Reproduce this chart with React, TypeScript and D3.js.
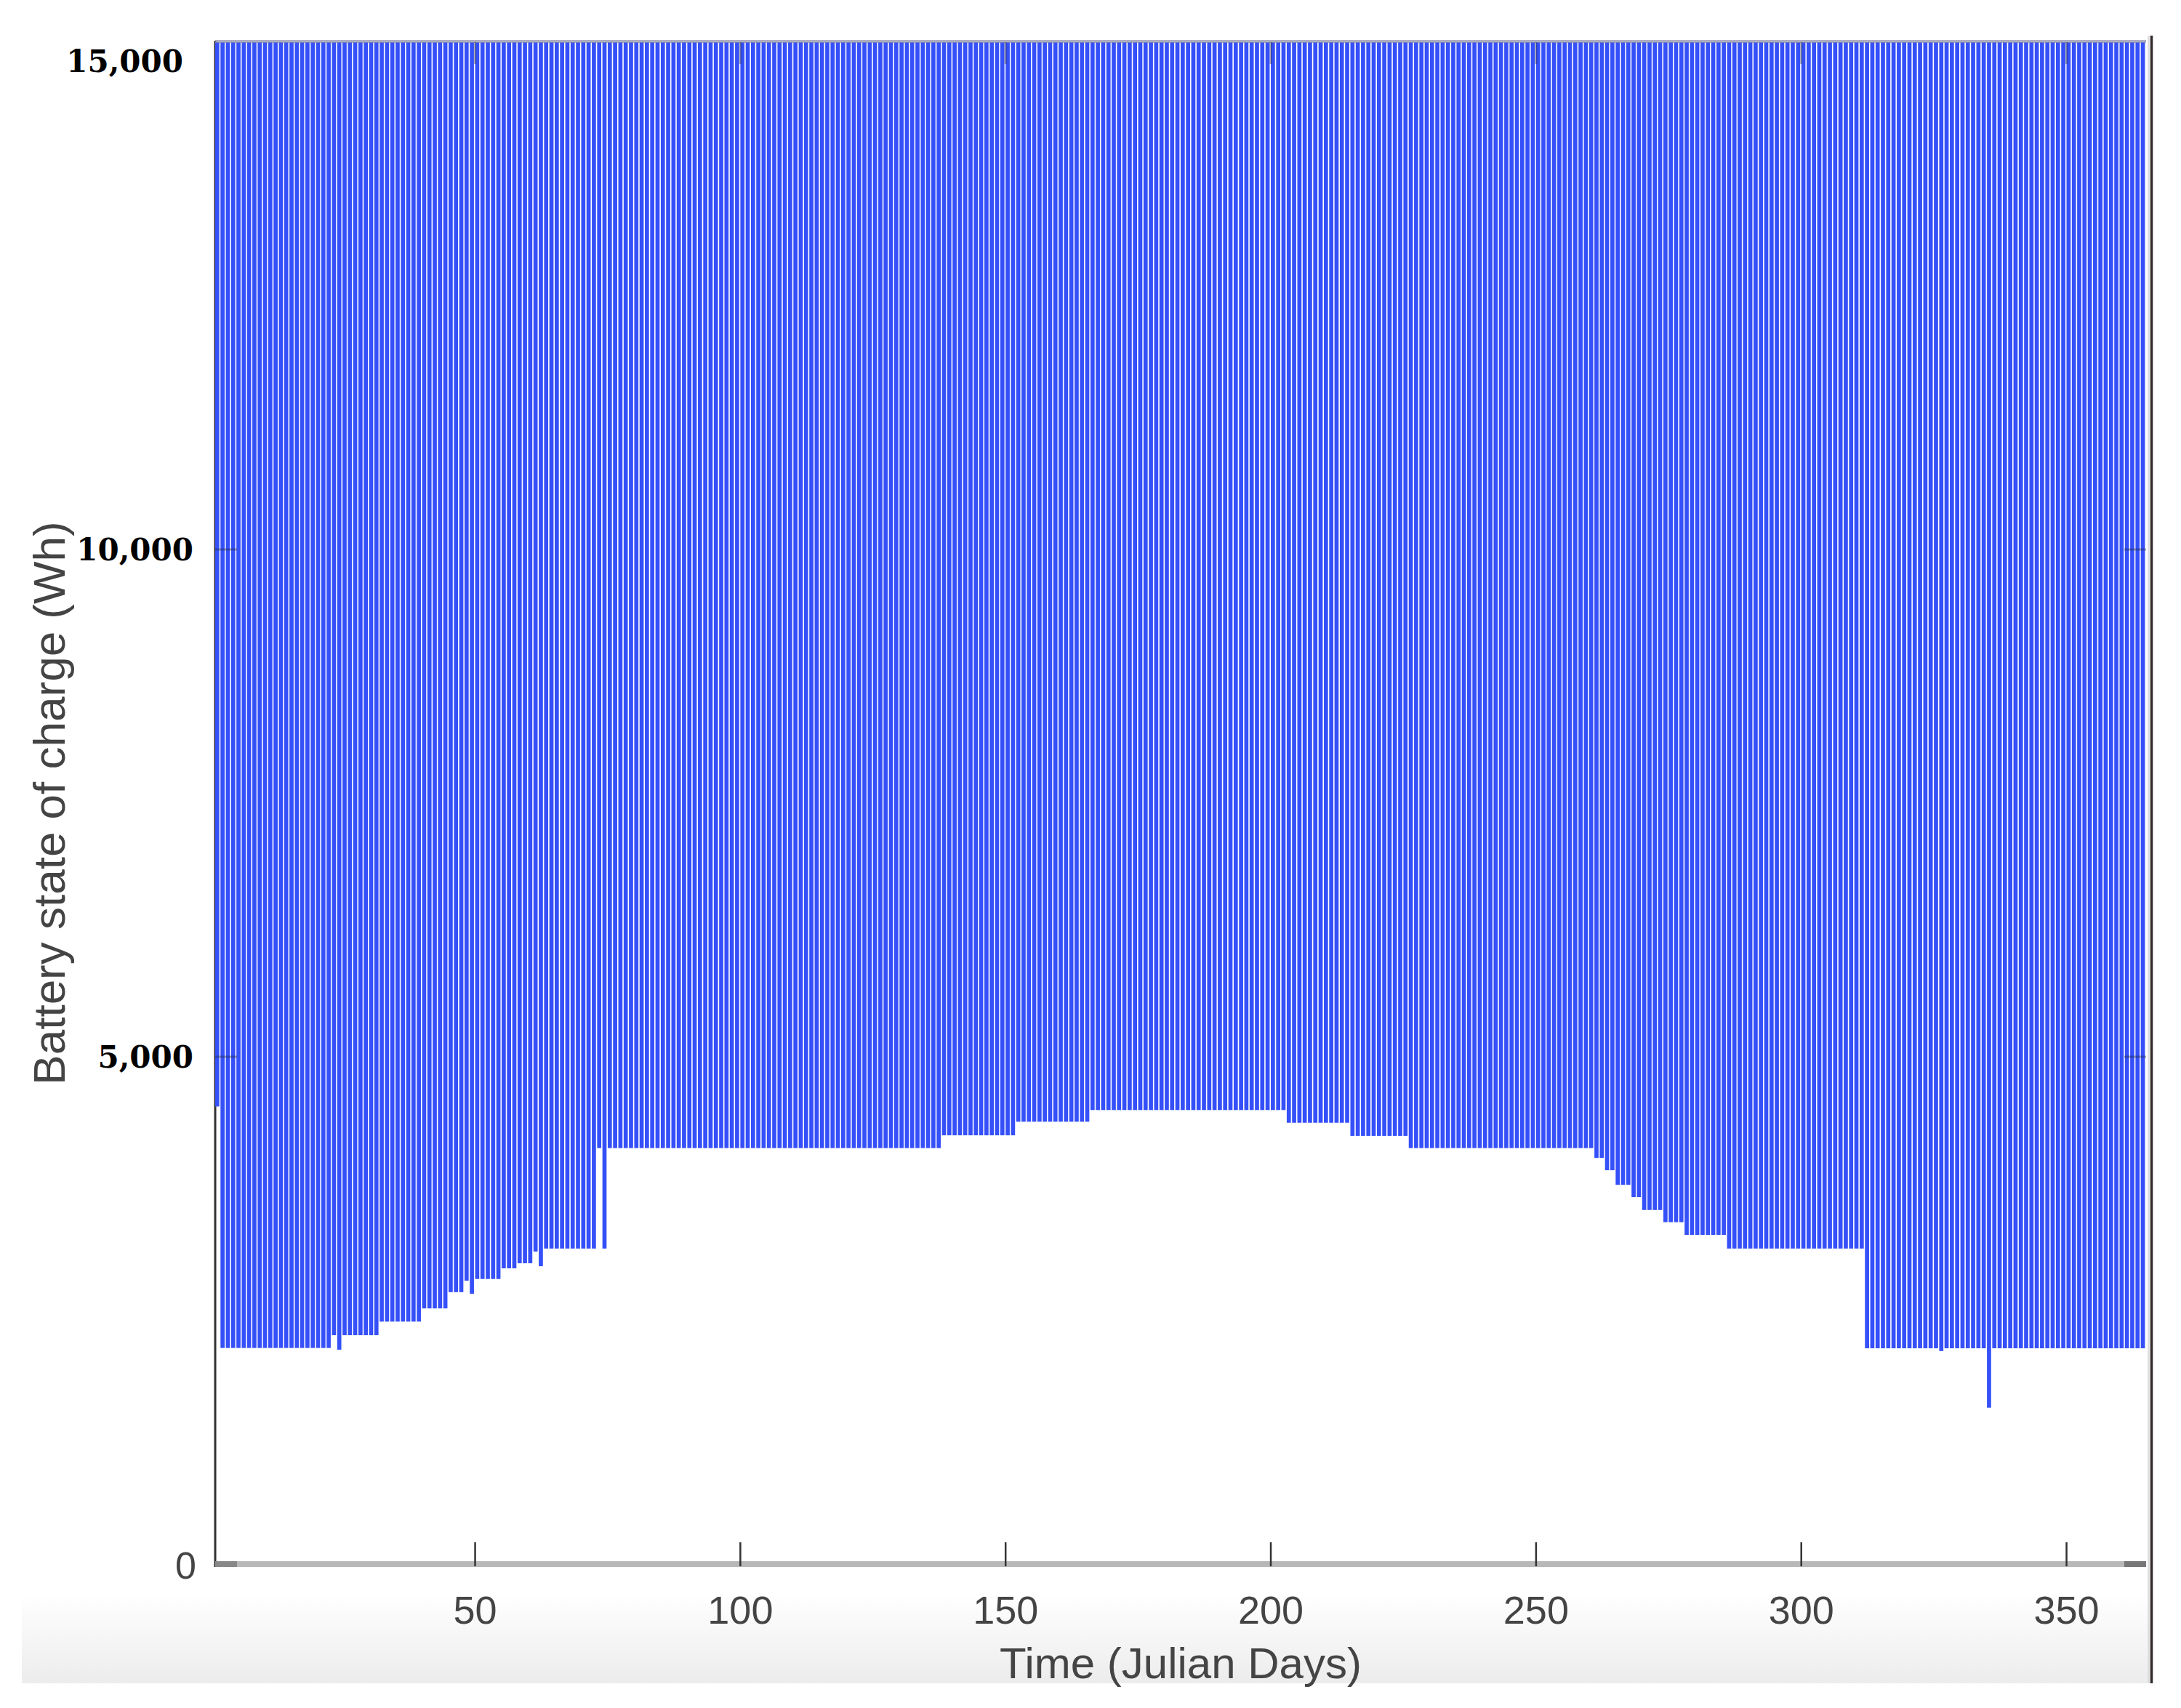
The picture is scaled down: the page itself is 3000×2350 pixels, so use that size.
import React from 'react';
import { scaleLinear, range } from 'd3';

// daily minimum battery charge, stored as runs: run i starts on runStartDay[i]
const runStartDay = [1, 2, 23, 24, 25, 32, 40, 45, 48, 49, 50, 55, 58, 61, 62, 63, 73, 74, 75, 138, 152, 166, 203, 215, 226, 261, 263, 265, 268, 270, 274, 278, 286, 312, 326, 327, 335, 336];
const runMinWh = [4510, 2130, 2256, 2113, 2256, 2390, 2520, 2680, 2793, 2664, 2810, 2915, 2965, 3080, 2936, 3110, 4100, 3110, 4100, 4226, 4360, 4475, 4350, 4220, 4100, 4003, 3882, 3738, 3617, 3490, 3370, 3245, 3110, 2127, 2100, 2127, 1542, 2127];
const lastDay = 365;
const dailyMaxWh = 15000;

const xTicks = [50, 100, 150, 200, 250, 300, 350];
const yTicks = [0, 5000, 10000, 15000];

const W = 3000;
const H = 2350;
const left = 296;
const right = 2952;
const top = 58;
const bottom = 2152;

const minForDay = (d: number) => {
  let v = runMinWh[0];
  runStartDay.forEach((s, i) => {
    if (s <= d) v = runMinWh[i];
  });
  return v;
};

export default function App() {
  const x = scaleLinear().domain([1, lastDay]).range([left, right]);
  const y = scaleLinear().domain([0, 15000]).range([bottom, top]);
  const step = x(2) - x(1);
  const days = range(1, lastDay + 1).map((d) => ({ day: d, min: minForDay(d), max: dailyMaxWh }));

  const sans = 'Liberation Sans, Arial, sans-serif';

  return (
    <svg
      width={W}
      height={H}
      style={{ position: 'absolute', left: 0, top: 0, background: '#fff' }}
    >
      <defs>
        <linearGradient id="band" x1="0" y1="0" x2="0" y2="1">
          <stop offset="0" stopColor="#ffffff" />
          <stop offset="1" stopColor="#ececec" />
        </linearGradient>
        <clipPath id="plot">
          <rect x={left} y={top - 2} width={right - left} height={bottom - top + 2} />
        </clipPath>
      </defs>

      <rect x={30} y={2193} width={2928} height={123} fill="url(#band)" />

      {/* axes under the bars */}
      <line x1={left} x2={left} y1={top - 2} y2={bottom + 4} stroke="#333" strokeWidth={3} />
      <line x1={left} x2={right} y1={bottom} y2={bottom} stroke="#b8b8b8" strokeWidth={8} />
      <line x1={left} x2={left + 30} y1={bottom} y2={bottom} stroke="#888" strokeWidth={8} />
      <line x1={right - 30} x2={right} y1={bottom} y2={bottom} stroke="#777" strokeWidth={8} />

      <g clipPath="url(#plot)">
        {days.map((d) => (
          <rect
            key={d.day}
            x={x(d.day)}
            y={y(d.max)}
            width={step * 0.78}
            height={y(d.min) - y(d.max)}
            fill="#3550f8"
          />
        ))}
      </g>

      {/* frame and ticks over the bars */}
      <line x1={left} x2={right} y1={top - 1} y2={top - 1} stroke="#8a8aa8" strokeOpacity={0.7} strokeWidth={4} />
      {xTicks.map((t) => (
        <g key={t}>
          <line x1={x(t)} x2={x(t)} y1={bottom + 3} y2={bottom - 30} stroke="#333" strokeWidth={2.5} />
          <line x1={x(t)} x2={x(t)} y1={top} y2={top + 30} stroke="#222" strokeOpacity={0.35} strokeWidth={3} />
        </g>
      ))}
      {yTicks.filter((t) => t > 0 && t < 15000).map((t) => (
        <g key={t}>
          <line x1={left} x2={left + 30} y1={y(t)} y2={y(t)} stroke="#222" strokeOpacity={0.35} strokeWidth={3} />
          <line x1={right - 30} x2={right} y1={y(t)} y2={y(t)} stroke="#222" strokeOpacity={0.35} strokeWidth={3} />
        </g>
      ))}
      <line x1={2955.5} x2={2955.5} y1={49} y2={2316} stroke="#dcdcdc" strokeWidth={2.5} />
      <line x1={2959.5} x2={2959.5} y1={49} y2={2316} stroke="#332a2a" strokeWidth={3.5} />

      {/* y tick labels */}
      {yTicks.map((t) =>
        t === 0 ? (
          <text key={t} x={270} y={y(t) + 2} textAnchor="end" dominantBaseline="central"
            fontFamily={sans} fontSize={52} fill="#444">
            0
          </text>
        ) : (
          <text key={t} x={t === 15000 ? 252 : 266} y={t === 15000 ? y(t) + 26 : y(t)} textAnchor="end"
            dominantBaseline="central" fontFamily="DejaVu Serif, serif" fontWeight="bold"
            fontSize={42} fill="#000">
            {t.toLocaleString('en-US')}
          </text>
        )
      )}

      {/* x tick labels */}
      {xTicks.map((t) => (
        <text key={t} x={x(t)} y={2215} textAnchor="middle" dominantBaseline="central"
          fontFamily={sans} fontSize={54} fill="#444">
          {t}
        </text>
      ))}

      <text x={(left + right) / 2} y={2288} textAnchor="middle" dominantBaseline="central"
        fontFamily={sans} fontSize={60} fill="#444">
        Time (Julian Days)
      </text>
      <text transform={`translate(67, ${(top + bottom) / 2}) rotate(-90)`} textAnchor="middle"
        dominantBaseline="central" fontFamily={sans} fontSize={62} fill="#444">
        Battery state of charge (Wh)
      </text>
    </svg>
  );
}
